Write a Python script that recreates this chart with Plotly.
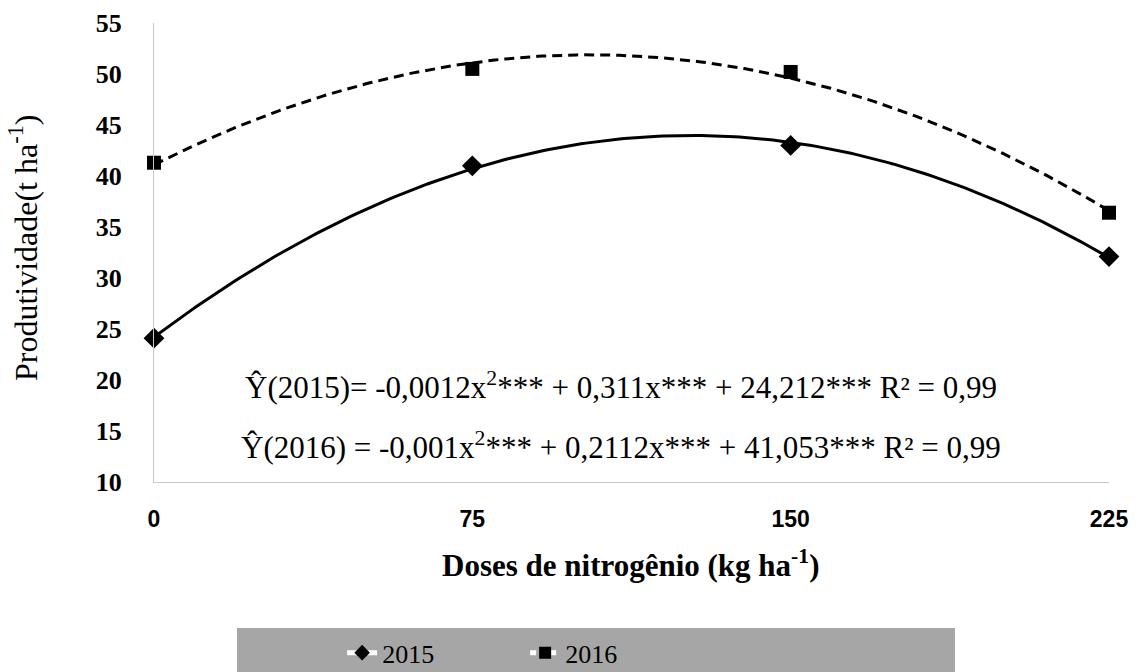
import numpy as np
import plotly.graph_objects as go

doses = [0, 75, 150, 225]
tick_labels = ["0", "75", "150", "225"]
prod_2015 = [24.1, 41.0, 43.0, 32.1]
prod_2016 = [41.3, 50.5, 50.2, 36.4]

eq_2015 = "Ŷ(2015)= -0,0012x<sup>2</sup>*** + 0,311x*** + 24,212*** R² = 0,99"
eq_2016 = "Ŷ(2016) = -0,001x<sup>2</sup>*** + 0,2112x*** + 41,053*** R² = 0,99"
x_title = "Doses de nitrogênio (kg ha<sup>-1</sup>)"
y_title = "Produtividade(t ha<sup>-1</sup>)"

SERIF = "Liberation Serif"
SANS = "Liberation Sans"

# quadratic trendlines fitted to the data (as the original spreadsheet did)
xs = np.linspace(min(doses), max(doses), 200)
fit15 = np.polyval(np.polyfit(doses, prod_2015, 2), xs)
fit16 = np.polyval(np.polyfit(doses, prod_2016, 2), xs)

fig = go.Figure()
fig.add_trace(go.Scatter(x=xs, y=fit15, mode="lines", line=dict(color="black", width=3),
                         showlegend=False, hoverinfo="skip", cliponaxis=False))
fig.add_trace(go.Scatter(x=xs, y=fit16, mode="lines",
                         line=dict(color="black", width=3, dash="10px,6px"),
                         showlegend=False, hoverinfo="skip", cliponaxis=False))
fig.add_trace(go.Scatter(x=doses, y=prod_2015, mode="markers",
                         marker=dict(symbol="diamond", size=16, color="black"),
                         showlegend=False, cliponaxis=False))
fig.add_trace(go.Scatter(x=doses, y=prod_2016, mode="markers",
                         marker=dict(symbol="square", size=14, color="black"),
                         showlegend=False, cliponaxis=False))
# legend entries (white line, black marker as in the original legend)
fig.add_trace(go.Scatter(x=[None], y=[None], mode="lines+markers", name="2015",
                         line=dict(color="white", width=3),
                         marker=dict(symbol="diamond", size=14, color="black")))
fig.add_trace(go.Scatter(x=[None], y=[None], mode="lines+markers", name="2016",
                         line=dict(color="white", width=3, dash="6px,4px"),
                         marker=dict(symbol="square", size=13, color="black")))

fig.add_annotation(x=0.489, y=19.5, xref="paper", yref="y", text=eq_2015, showarrow=False,
                   font=dict(family=SERIF, size=31, color="black"))
fig.add_annotation(x=0.489, y=13.6, xref="paper", yref="y", text=eq_2016, showarrow=False,
                   font=dict(family=SERIF, size=31, color="black"))
# axis titles
fig.add_annotation(x=0.499, y=-0.178, xref="paper", yref="paper", text=x_title, showarrow=False,
                   xanchor="center", yanchor="middle",
                   font=dict(family=SERIF, size=31, color="black", weight="bold"))
fig.add_annotation(x=-0.137, y=0.51, xref="paper", yref="paper", text=y_title, showarrow=False,
                   textangle=-90, xanchor="center", yanchor="middle",
                   font=dict(family=SERIF, size=32, color="black"))

# grey legend band
fig.add_shape(type="rect", xref="paper", yref="paper", x0=0.0869, x1=0.8387, y0=-0.318, y1=-0.45,
              fillcolor="#A6A6A6", line=dict(width=0), layer="below")

fig.update_layout(
    width=1141, height=672,
    margin=dict(l=154, r=32, t=23, b=190, autoexpand=False),
    plot_bgcolor="white", paper_bgcolor="white",
    showlegend=True,
    legend=dict(orientation="h", x=0.197, y=-0.372, xanchor="left", yanchor="middle",
                bgcolor="rgba(0,0,0,0)", font=dict(family=SERIF, size=26, color="black"),
                entrywidth=138, itemsizing="constant"),
    xaxis=dict(range=[0, 225], tickmode="array", tickvals=doses, ticktext=tick_labels,
               showgrid=False, zeroline=False, showline=True, linecolor="#C8C8C8", linewidth=1,
               ticks="", ticklabelstandoff=16, automargin=False,
               tickfont=dict(family=SANS, size=23, color="black", weight="bold")),
    yaxis=dict(range=[10, 55], tickmode="linear", tick0=10, dtick=5,
               showgrid=False, zeroline=False, showline=True, linecolor="#C8C8C8", linewidth=1,
               ticks="", ticklabelstandoff=26, automargin=False,
               tickfont=dict(family=SERIF, size=26, color="black", weight="bold")),
)

fig.write_html("out.html", config={"displayModeBar": False},
               post_script="document.body.style.margin='0';")
